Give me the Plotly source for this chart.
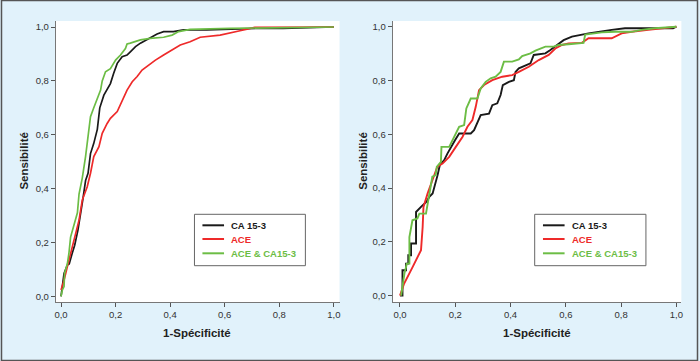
import plotly.graph_objects as go

# ---------------- data ----------------
series_names = ["CA 15-3", "ACE", "ACE & CA15-3"]
series_colors = ["#1a1a1a", "#ee2a2a", "#6cbd45"]

tick_vals = [0, 0.2, 0.4, 0.6, 0.8, 1.0]

# Left panel
left_ca153_x = [0.0, 0.006, 0.011, 0.023, 0.03, 0.041, 0.05, 0.062, 0.072, 0.08, 0.09, 0.099, 0.108, 0.12, 0.133, 0.142, 0.157, 0.169, 0.181, 0.193, 0.206, 0.224, 0.242, 0.254, 0.273, 0.291, 0.315, 0.334, 0.352, 0.376, 0.412, 0.449, 0.534, 0.63, 0.723, 0.814, 1.0]
left_ca153_y = [0.0, 0.04, 0.085, 0.116, 0.12, 0.16, 0.19, 0.246, 0.32, 0.36, 0.43, 0.457, 0.53, 0.568, 0.62, 0.70, 0.747, 0.77, 0.79, 0.828, 0.865, 0.89, 0.896, 0.908, 0.927, 0.94, 0.952, 0.964, 0.974, 0.983, 0.983, 0.989, 0.989, 0.993, 0.995, 0.995, 1.0]

left_ace_x = [0.0, 0.011, 0.023, 0.041, 0.054, 0.066, 0.078, 0.096, 0.108, 0.12, 0.139, 0.151, 0.169, 0.181, 0.206, 0.224, 0.242, 0.261, 0.279, 0.297, 0.321, 0.346, 0.376, 0.407, 0.437, 0.473, 0.51, 0.583, 0.619, 0.656, 0.686, 0.71, 1.0]
left_ace_y = [0.024, 0.06, 0.11, 0.184, 0.234, 0.283, 0.358, 0.407, 0.457, 0.519, 0.556, 0.605, 0.642, 0.661, 0.686, 0.729, 0.766, 0.797, 0.816, 0.84, 0.859, 0.877, 0.896, 0.915, 0.933, 0.945, 0.962, 0.97, 0.977, 0.986, 0.993, 0.999, 1.0]

left_comb_x = [0.0, 0.005, 0.011, 0.013, 0.023, 0.029, 0.035, 0.047, 0.06, 0.066, 0.078, 0.09, 0.099, 0.108, 0.12, 0.133, 0.145, 0.151, 0.163, 0.181, 0.2, 0.218, 0.236, 0.242, 0.254, 0.291, 0.327, 0.376, 0.407, 0.431, 0.473, 0.546, 0.619, 1.0]
left_comb_y = [0.0, 0.024, 0.036, 0.085, 0.12, 0.16, 0.22, 0.26, 0.31, 0.38, 0.44, 0.52, 0.59, 0.667, 0.70, 0.735, 0.766, 0.80, 0.834, 0.845, 0.877, 0.896, 0.92, 0.937, 0.94, 0.952, 0.958, 0.962, 0.97, 0.983, 0.991, 0.993, 0.995, 1.0]

# Right panel
right_ca153_x = [0.0, 0.009, 0.009, 0.022, 0.022, 0.03, 0.03, 0.04, 0.04, 0.058, 0.058, 0.066, 0.076, 0.096, 0.106, 0.118, 0.127, 0.136, 0.144, 0.16, 0.172, 0.184, 0.199, 0.214, 0.256, 0.268, 0.28, 0.292, 0.322, 0.334, 0.352, 0.364, 0.372, 0.394, 0.412, 0.418, 0.43, 0.454, 0.472, 0.484, 0.526, 0.544, 0.574, 0.592, 0.622, 0.682, 0.766, 0.814, 0.988, 1.0]
right_ca153_y = [0.0, 0.0, 0.094, 0.094, 0.119, 0.119, 0.15, 0.15, 0.194, 0.194, 0.311, 0.32, 0.33, 0.349, 0.367, 0.38, 0.411, 0.448, 0.485, 0.504, 0.529, 0.553, 0.578, 0.603, 0.603, 0.615, 0.64, 0.671, 0.677, 0.708, 0.715, 0.746, 0.783, 0.795, 0.801, 0.832, 0.845, 0.857, 0.864, 0.895, 0.901, 0.913, 0.938, 0.95, 0.963, 0.975, 0.988, 0.994, 0.994, 1.0]

right_ace_x = [0.0, 0.015, 0.046, 0.076, 0.082, 0.085, 0.1, 0.117, 0.135, 0.154, 0.178, 0.202, 0.226, 0.244, 0.262, 0.274, 0.286, 0.304, 0.334, 0.37, 0.406, 0.43, 0.466, 0.502, 0.538, 0.562, 0.586, 0.61, 0.658, 0.682, 0.766, 0.802, 0.838, 0.898, 0.946, 1.0]
right_ace_y = [0.0, 0.045, 0.107, 0.169, 0.255, 0.33, 0.38, 0.429, 0.479, 0.491, 0.516, 0.553, 0.59, 0.628, 0.653, 0.702, 0.764, 0.783, 0.801, 0.814, 0.82, 0.832, 0.851, 0.876, 0.895, 0.919, 0.932, 0.938, 0.94, 0.957, 0.957, 0.975, 0.981, 0.988, 0.994, 1.0]

right_comb_x = [0.004, 0.016, 0.025, 0.034, 0.034, 0.045, 0.063, 0.07, 0.094, 0.1, 0.106, 0.112, 0.117, 0.129, 0.133, 0.148, 0.15, 0.178, 0.19, 0.204, 0.214, 0.232, 0.24, 0.256, 0.28, 0.292, 0.31, 0.328, 0.346, 0.364, 0.376, 0.406, 0.43, 0.442, 0.472, 0.49, 0.526, 0.556, 0.574, 0.61, 0.664, 0.67, 0.73, 0.778, 0.838, 0.874, 0.922, 1.0]
right_comb_y = [0.0, 0.082, 0.119, 0.119, 0.218, 0.28, 0.287, 0.305, 0.305, 0.342, 0.38, 0.411, 0.442, 0.448, 0.479, 0.497, 0.553, 0.553, 0.578, 0.603, 0.628, 0.634, 0.696, 0.733, 0.733, 0.77, 0.795, 0.808, 0.814, 0.832, 0.87, 0.87, 0.878, 0.891, 0.901, 0.911, 0.926, 0.926, 0.932, 0.935, 0.94, 0.971, 0.979, 0.981, 0.981, 0.988, 0.994, 1.0]

# ---------------- figure ----------------
W, H = 700, 361
BG = "#e1f2fb"
FONT = "Liberation Sans, Arial, sans-serif"

def px(xp):
    return xp / W

def py(yp):
    return 1 - yp / H

fig = go.Figure()

left = [(left_ca153_x, left_ca153_y), (left_ace_x, left_ace_y), (left_comb_x, left_comb_y)]
right = [(right_ca153_x, right_ca153_y), (right_ace_x, right_ace_y), (right_comb_x, right_comb_y)]

for i, (xs, ys) in enumerate(left):
    fig.add_trace(go.Scatter(x=xs, y=ys, mode="lines", name=series_names[i],
                             line=dict(color=series_colors[i], width=1.7),
                             xaxis="x", yaxis="y", showlegend=False))
for i, (xs, ys) in enumerate(right):
    fig.add_trace(go.Scatter(x=xs, y=ys, mode="lines", name=series_names[i],
                             line=dict(color=series_colors[i], width=1.9),
                             xaxis="x2", yaxis="y2", showlegend=False))

axis_common = dict(
    tickvals=tick_vals, tickformat=".1f", ticks="outside", ticklen=4,
    tickcolor="#555", tickwidth=1, showline=True, linecolor="#777", linewidth=1,
    showgrid=False, zeroline=False, tickfont=dict(family=FONT, size=9.5, color="#333"),
    fixedrange=True,
)

fig.update_layout(
    width=W, height=H,
    margin=dict(l=0, r=0, t=0, b=0),
    paper_bgcolor=BG, plot_bgcolor="white",
    separators=",.",
    xaxis=dict(domain=[px(55), px(340)], range=[-0.0193, 1.0208], anchor="y", **axis_common),
    yaxis=dict(domain=[py(302), py(21)], range=[-0.021, 1.0223], anchor="x", **axis_common),
    xaxis2=dict(domain=[px(393.3), px(683.3)], range=[-0.0267, 1.018], anchor="y2", **axis_common),
    yaxis2=dict(domain=[py(302), py(21)], range=[-0.0238, 1.0212], anchor="x2", **axis_common),
    font=dict(family=FONT),
)

shapes = []
annotations = []

# outer frame
shapes.append(dict(type="rect", xref="paper", yref="paper", x0=0.5 / W, x1=1 - 0.5 / W,
                   y0=0.5 / H, y1=1 - 0.5 / H, line=dict(color="#555", width=1.5)))

# axis titles
for xc in (22.7, 363.3):
    annotations.append(dict(text="<b>Sensibilité</b>", xref="paper", yref="paper",
                            x=px(xc), y=py(161), textangle=-90, showarrow=False,
                            xanchor="center", yanchor="middle",
                            font=dict(family=FONT, size=11.5, color="#222")))
for xc in (196.7, 538.3):
    annotations.append(dict(text="<b>1-Spécificité</b>", xref="paper", yref="paper",
                            x=px(xc), y=py(333.3), showarrow=False,
                            xanchor="center", yanchor="middle",
                            font=dict(family=FONT, size=11.5, color="#222")))

# legends (drawn boxes)
legend_specs = [
    dict(box=(194.3, 305.7), line=(202.3, 224), text_x=229.3),
    dict(box=(536, 647.7), line=(544.3, 566), text_x=571.7),
]
row_y = [225.3, 239, 253.3]
for spec in legend_specs:
    bx0, bx1 = spec["box"]
    shapes.append(dict(type="rect", xref="paper", yref="paper", x0=px(bx0), x1=px(bx1),
                       y0=py(265.7), y1=py(214.3), line=dict(color="#666", width=1),
                       fillcolor="white", layer="above"))
    lx0, lx1 = spec["line"]
    for i, ry in enumerate(row_y):
        shapes.append(dict(type="line", xref="paper", yref="paper", x0=px(lx0), x1=px(lx1),
                           y0=py(ry), y1=py(ry), line=dict(color=series_colors[i], width=2)))
        annotations.append(dict(text="<b>%s</b>" % series_names[i], xref="paper", yref="paper",
                                x=px(spec["text_x"]), y=py(ry), showarrow=False,
                                xanchor="left", yanchor="middle",
                                font=dict(family=FONT, size=9.5, color=series_colors[i])))

fig.update_layout(shapes=shapes, annotations=annotations)

fig.write_html(
    "out.html",
    config={"displayModeBar": False},
    post_script="document.body.style.margin='0';document.body.style.overflow='hidden';",
)
